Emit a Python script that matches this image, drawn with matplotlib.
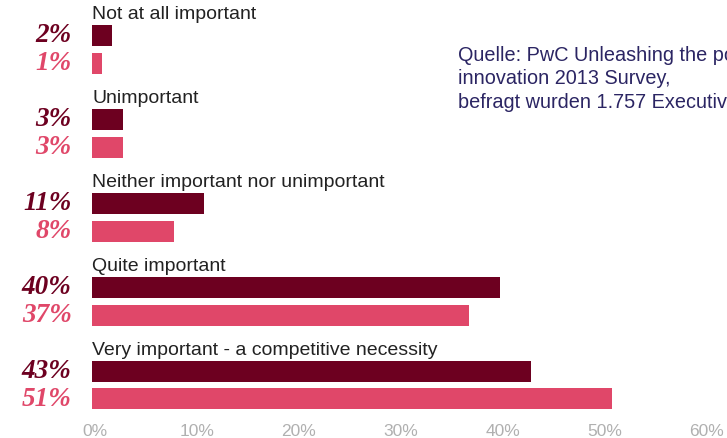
import matplotlib
matplotlib.use("agg")
import matplotlib.pyplot as plt
import matplotlib.transforms as mtransforms

# survey answers, two series per answer
categories = ["Not at all important", "Unimportant",
              "Neither important nor unimportant", "Quite important",
              "Very important - a competitive necessity"]
dark_values = [2, 3, 11, 40, 43]
pink_values = [1, 3, 8, 37, 51]
xticks = [0, 10, 20, 30, 40, 50, 60]

dark = "#6d0020"
pink = "#e04769"

W, H = 727, 439
fig = plt.figure(figsize=(W / 100, H / 100), dpi=100)
# axes: 0% at x=92px, 60% at x=704px, top at 0px, bottom at 414px
bottom = 414
ax = fig.add_axes([92 / W, 1 - bottom / H, (704 - 92) / W, bottom / H])
ax.set_xlim(0, 60)
# one unit = 28px, first dark bar centred at 36px
ax.set_ylim((bottom - 36) / 28, -36 / 28)

for i, cat in enumerate(categories):
    yd = 3 * i
    yp = 3 * i + 1
    ax.barh(yd, dark_values[i], height=0.75, color=dark)
    ax.barh(yp, pink_values[i], height=0.75, color=pink)
    ax.text(0, yd - 0.78, cat, ha="left", va="center", fontsize=14,
            color="#222222", family="Liberation Sans")
    ax.text(-2, yd, "%d%%" % dark_values[i], ha="right", va="center",
            fontsize=19.5, color=dark, family="Liberation Serif",
            weight="bold", style="italic", clip_on=False)
    ax.text(-2, yp, "%d%%" % pink_values[i], ha="right", va="center",
            fontsize=19.5, color=pink, family="Liberation Serif",
            weight="bold", style="italic", clip_on=False)

ax.set_xticks(xticks)
ax.set_xticklabels(["%d%%" % t for t in xticks], color="#b0b0b0",
                   fontsize=12.5, family="Liberation Sans")
ax.tick_params(axis="x", length=0, pad=7)
shift = mtransforms.ScaledTranslation(3 / 100, 0, fig.dpi_scale_trans)
for lab in ax.get_xticklabels():
    lab.set_transform(lab.get_transform() + shift)
ax.set_yticks([])
for s in ax.spines.values():
    s.set_visible(False)

fig.text(458 / W, 1 - 46 / H,
         "Quelle: PwC Unleashing the power of\ninnovation 2013 Survey,\nbefragt wurden 1.757 Executives",
         ha="left", va="top", fontsize=14.3, color="#2b2563",
         family="Liberation Sans", linespacing=1.3)

fig.savefig("out.png", dpi=100)
